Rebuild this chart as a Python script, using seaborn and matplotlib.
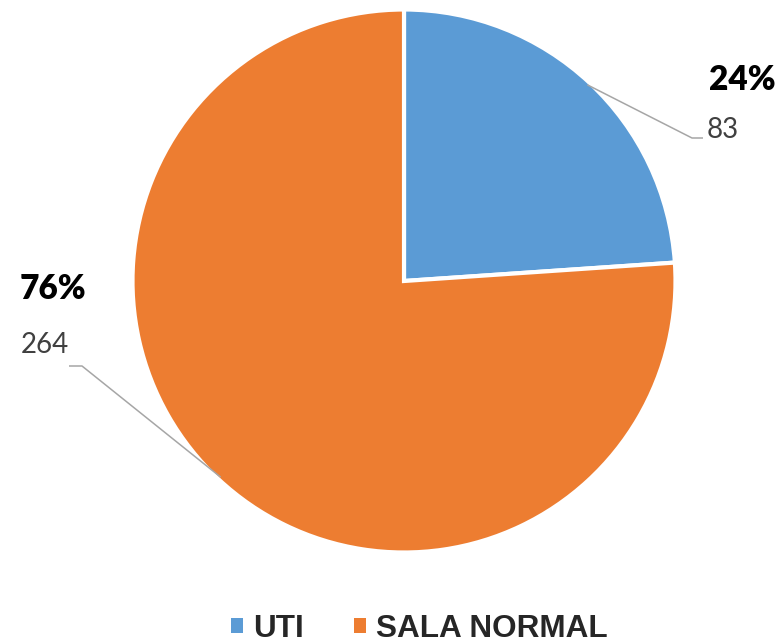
import numpy as np
import matplotlib
matplotlib.use("Agg")
import matplotlib.pyplot as plt
import seaborn as sns

# Patients by ward
categories = ["UTI", "SALA NORMAL"]
counts = [83, 264]
percent_labels = ["24%", "76%"]

sns.set_theme(style="white")
colors = ["#5B9BD5", "#ED7D31"]

W, H = 782, 643
fig = plt.figure(figsize=(W / 100, H / 100), dpi=100)
ax = fig.add_axes([0, 0, 1, 1])

cx, cy, R = 404, H - 281, 271.5
wedges, _ = ax.pie(
    counts,
    colors=colors,
    startangle=90,
    counterclock=False,
    center=(cx, cy),
    radius=R,
    wedgeprops=dict(edgecolor="white", linewidth=3),
)
ax.set_xlim(0, W)
ax.set_ylim(0, H)
ax.set_aspect("equal")
ax.axis("off")

label_font = ["Lato", "DejaVu Sans"]
line_color = "#A6A6A6"

# label anchors (percent baseline, count baseline, x centres) and leader elbows
label_specs = [
    dict(px=742.5, pct_y=90, cx_=722.5, cnt_y=138, elbow=(692, 138), end=(703, 138)),
    dict(px=52.5, pct_y=299, cx_=45, cnt_y=353, elbow=(82, 366), end=(69, 366)),
]

for w, pct, n, spec in zip(wedges, percent_labels, counts, label_specs):
    mid = np.deg2rad((w.theta1 + w.theta2) / 2)
    sx = cx + (R - 3) * np.cos(mid)
    sy = cy + (R - 3) * np.sin(mid)
    ex, ey = spec["elbow"]
    fx, fy = spec["end"]
    ax.plot([sx, ex, fx], [sy, H - ey, H - fy], color=line_color, lw=1.1,
            solid_capstyle="butt", zorder=3)
    ax.text(spec["px"], H - spec["pct_y"], pct, ha="center", va="baseline",
            fontsize=24, fontweight="heavy", color="black", family=label_font)
    ax.text(spec["cx_"], H - spec["cnt_y"], str(n), ha="center", va="baseline",
            fontsize=20, color="#404040", family=label_font)

leg = fig.legend(
    wedges, categories,
    loc="center",
    bbox_to_anchor=(419.5 / W, 14 / H),
    ncol=2,
    frameon=False,
    borderpad=0,
    handlelength=0.38,
    handleheight=0.38,
    handletextpad=0.32,
    columnspacing=1.6,
    prop=dict(family=["Liberation Sans", "DejaVu Sans"], weight="bold", size=22.7),
)
for h in leg.legend_handles:
    h.set_edgecolor("none")
    h.set_linewidth(0)

fig.savefig("out.png", dpi=100)
